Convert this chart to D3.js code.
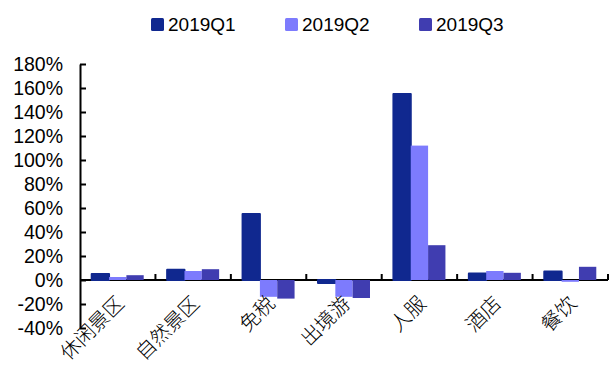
<!DOCTYPE html>
<html>
<head>
<meta charset="utf-8">
<script src="https://cdn.jsdelivr.net/npm/d3@7/dist/d3.min.js"></script>
<style>
  html, body { margin: 0; padding: 0; background: #fff; }
  svg { display: block; }
</style>
</head>
<body>
<svg id="chart" width="609" height="365"></svg>
<script>
// Year-on-year growth by sector, 2019 quarters
const categories = ["休闲景区", "自然景区", "免税", "出境游", "人服", "酒店", "餐饮"];
const seriesNames = ["2019Q1", "2019Q2", "2019Q3"];
const q1 = [0.05, 0.085, 0.55, -0.025, 1.55, 0.055, 0.07];
const q2 = [0.025, 0.075, -0.14, -0.14, 1.12, 0.075, -0.015];
const q3 = [0.04, 0.09, -0.155, -0.15, 0.29, 0.06, 0.11];
const yTicks = [-0.4, -0.2, 0, 0.2, 0.4, 0.6, 0.8, 1.0, 1.2, 1.4, 1.6, 1.8];
const colors = ["#10288f", "#7d7bfd", "#403db0"];

const seriesValues = [q1, q2, q3];
const rows = categories.map((c, i) => ({
  category: c,
  values: seriesNames.map((s, k) => ({ series: s, k, value: seriesValues[k][i] }))
}));

const svg = d3.select("#chart");
const plotLeft = 80, plotRight = 608, plotTop = 64, plotBottom = 328;

const x0 = d3.scaleBand().domain(categories).range([plotLeft, plotRight]).padding(0);
const groupW = 52;
const x1 = d3.scaleBand().domain(seriesNames)
  .range([(x0.bandwidth() - groupW) / 2, (x0.bandwidth() + groupW) / 2]).padding(0);
const y = d3.scaleLinear().domain([-0.4, 1.8]).range([plotBottom, plotTop]);
const color = d3.scaleOrdinal().domain(seriesNames).range(colors);

const fmt = d => Math.round(d * 100) + "%";
const tickFont = "'Liberation Sans', Arial, sans-serif";

// Y axis: ticks point inward
const yAxis = svg.append("g")
  .attr("transform", `translate(${plotLeft},0)`)
  .call(d3.axisRight(y).tickValues(yTicks).tickFormat(fmt).tickSize(6).tickSizeOuter(0));
yAxis.select(".domain").attr("stroke", "#000").attr("stroke-width", 2);
yAxis.selectAll(".tick line").attr("stroke", "#000").attr("stroke-width", 2);
yAxis.selectAll(".tick text")
  .attr("x", -17)
  .attr("text-anchor", "end")
  .attr("fill", "#000")
  .style("font-family", tickFont)
  .style("font-size", "19.5px");

// Zero line with category separator ticks pointing up
const xAxis = svg.append("g")
  .attr("transform", `translate(0,${y(0)})`);
xAxis.append("line")
  .attr("x1", plotLeft).attr("x2", plotRight)
  .attr("stroke", "#000").attr("stroke-width", 2);
const sepPositions = categories.map(c => x0(c) + x0.bandwidth());
xAxis.selectAll("line.sep")
  .data(sepPositions)
  .join("line")
  .attr("class", "sep")
  .attr("x1", d => d).attr("x2", d => d)
  .attr("y1", 0).attr("y2", -6)
  .attr("stroke", "#000").attr("stroke-width", 2);

// Bars
const groups = svg.append("g").selectAll("g")
  .data(rows)
  .join("g")
  .attr("transform", d => `translate(${x0(d.category)},0)`);

groups.selectAll("rect")
  .data(d => d.values)
  .join("rect")
  .attr("x", d => x1(d.series))
  .attr("width", x1.bandwidth())
  .attr("y", d => y(Math.max(0, d.value)))
  .attr("height", d => Math.abs(y(d.value) - y(0)))
  .attr("fill", d => color(d.series))
  .attr("stroke", d => d.k === 0 ? color(d.series) : "none")
  .attr("stroke-width", d => d.k === 0 ? 2 : 0)
  .attr("stroke-linejoin", "round");

// Category labels, rotated
svg.append("g").selectAll("text")
  .data(categories)
  .join("text")
  .attr("transform", c => `translate(${x0(c) + x0.bandwidth() / 2 - 3},${y(0) + 14}) rotate(-45)`)
  .attr("text-anchor", "end")
  .attr("dy", "0.75em")
  .attr("fill", "#000")
  .style("font-family", "'Noto Sans CJK SC', sans-serif")
  .style("font-weight", "300")
  .style("font-size", "20px")
  .text(c => c);

// Legend
const legend = svg.append("g").selectAll("g")
  .data(seriesNames)
  .join("g")
  .attr("transform", (d, i) => `translate(${151 + i * 134},18)`);
legend.append("rect")
  .attr("width", 13).attr("height", 13)
  .attr("rx", 1.5)
  .attr("fill", d => color(d));
legend.append("text")
  .attr("x", 17).attr("y", 6.5)
  .attr("dy", "0.36em")
  .attr("fill", "#000")
  .style("font-family", tickFont)
  .style("font-size", "19px")
  .text(d => d);
</script>
</body>
</html>
